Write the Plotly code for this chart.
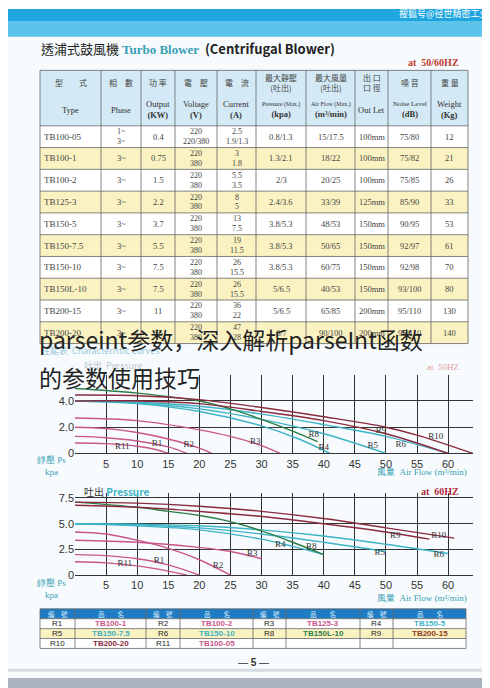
import plotly.graph_objects as go

W, H = 490, 688

# spec table data
types = ["TB100-05", "TB100-1", "TB100-2", "TB125-3", "TB150-5", "TB150-7.5",
         "TB150-10", "TB150L-10", "TB200-15", "TB200-20"]
phases = ["1~<br>3~"] + ["3~"] * 9
outputs = ["0.4", "0.75", "1.5", "2.2", "3.7", "5.5", "7.5", "7.5", "11", "15"]
voltages = ["220<br>220/380"] + ["220<br>380"] * 9
currents = ["2.5<br>1.9/1.3", "3<br>1.8", "5.5<br>3.5", "8<br>5", "13<br>7.5", "19<br>11.5",
            "26<br>15.5", "26<br>15.5", "36<br>22", "47<br>28"]
pressures = ["0.8/1.3", "1.3/2.1", "2/3", "2.4/3.6", "3.8/5.3", "3.8/5.3", "3.8/5.3",
             "5/6.5", "5/6.5", "6/7"]
airflows = ["15/17.5", "18/22", "20/25", "33/39", "48/53", "50/65", "60/75", "40/53",
            "65/85", "90/100"]
outlets = ["100mm", "100mm", "100mm", "125mm", "150mm", "150mm", "150mm", "150mm",
           "200mm", "200mm"]
noise = ["75/80", "75/82", "75/85", "85/90", "90/95", "92/97", "92/98", "93/100",
         "95/110", "95/110"]
weights = ["12", "21", "26", "33", "53", "61", "70", "80", "130", "140"]

head_cn = ["型　　式", "相　數", "功 率", "電　壓", "電　流", "最大靜壓<br>(吐出)",
           "最大風量<br>(吐出)", "出 口<br>口 徑", "噪 音", "重 量"]
head_en = ["Type", "Phase", "Output<br><b>(KW)</b>", "Voltage<br><b>(V)</b>",
           "Current<br><b>(A)</b>", "<span style='font-size:6px'>Pressure (Max.)</span><br><b>(kpa)</b>",
           "<span style='font-size:6px'>Air Flow (Max.)</span><br><b>(m³/min)</b>", "Out Let",
           "<span style='font-size:7px'>Noise Level</span><br><b>(dB)</b>", "Weight<br><b>(Kg)</b>"]

# characteristic curves, 50Hz
c50 = {
    "R11": ([0, 5, 10, 13, 15], [0.8, 0.75, 0.55, 0.3, 0]),
    "R1": ([0, 5, 10, 15, 18], [1.3, 1.2, 0.95, 0.5, 0]),
    "R2": ([0, 5, 10, 15, 20, 22], [2.0, 1.9, 1.6, 1.1, 0.4, 0]),
    "R3": ([0, 10, 20, 25, 30, 33], [2.7, 2.5, 1.8, 1.3, 0.6, 0]),
    "R4": ([0, 10, 20, 30, 36, 41], [4.0, 3.8, 3.2, 2.1, 1.1, 0]),
    "R5": ([0, 10, 20, 30, 40, 50], [4.0, 3.85, 3.4, 2.6, 1.5, 0]),
    "R6": ([0, 10, 20, 30, 40, 50, 60], [4.0, 3.9, 3.6, 3.0, 2.2, 1.3, 0]),
    "R8": ([0, 10, 20, 25, 30, 35, 39], [4.95, 4.6, 4.0, 3.4, 2.6, 1.7, 0.9]),
    "R9": ([0, 10, 20, 30, 40, 50, 60], [4.0, 4.0, 3.8, 3.2, 2.5, 1.5, 0]),
    "R10": ([0, 10, 20, 30, 40, 50, 55, 64], [4.45, 4.4, 4.1, 3.5, 2.8, 2.0, 1.4, 0]),
}
lab50 = {"R11": (7.6, 0.5), "R1": (13.2, 0.7), "R2": (18.3, 0.65), "R3": (29, 0.9),
         "R8": (38.4, 1.4), "R4": (40, 0.45), "R5": (47.9, 0.6), "R6": (52.4, 0.65),
         "R9": (49.2, 1.75), "R10": (58, 1.25)}

# 60Hz
c60 = {
    "R11": ([0, 5, 10, 15, 18], [1.3, 1.2, 0.9, 0.4, 0]),
    "R1": ([0, 5, 10, 15, 20], [2.0, 1.9, 1.6, 1.0, 0]),
    "R2": ([0, 5, 10, 15, 20, 25], [4.2, 4.0, 3.4, 2.6, 1.5, 0]),
    "R3": ([0, 10, 20, 25, 30], [3.4, 3.2, 2.7, 2.3, 1.6]),
    "R4": ([0, 10, 20, 30, 35, 40], [5.0, 4.8, 4.4, 3.5, 2.8, 2.0]),
    "R5": ([0, 10, 20, 30, 40, 50], [5.0, 4.9, 4.6, 4.0, 3.2, 2.3]),
    "R6": ([0, 10, 20, 30, 40, 50, 60], [5.0, 4.95, 4.8, 4.4, 3.8, 3.0, 2.1]),
    "R8": ([0, 10, 15, 20, 25, 30, 35, 40], [7.1, 6.6, 6.2, 5.8, 5.2, 4.3, 3.2, 2.0]),
    "R9": ([0, 10, 20, 30, 40, 50, 57], [6.8, 6.6, 6.2, 5.7, 5.0, 4.2, 3.5]),
    "R10": ([0, 10, 20, 30, 40, 50, 61], [7.1, 7.0, 6.7, 6.2, 5.5, 4.6, 3.6]),
}
lab60 = {"R11": (8, 1.1), "R1": (13.5, 1.4), "R2": (23, 0.9), "R3": (28.5, 2.1),
         "R4": (33, 3.0), "R8": (38, 2.8), "R5": (49, 2.2), "R6": (58.5, 2.0),
         "R9": (51.5, 3.8), "R10": (58.5, 3.8)}

# legend table
codes = [["R1", "R5", "R10"], ["R2", "R6", "R11"], ["R3", "R8", ""], ["R4", "R9", ""]]
names = [["TB100-1", "TB150-7.5", "TB200-20"], ["TB100-2", "TB150-10", "TB100-05"],
         ["TB125-3", "TB150L-10", ""], ["TB150-5", "TB200-15", ""]]

PINK, MAROON, CYAN, GREEN, BROWN = "#c9558a", "#8a2b3e", "#3db3c6", "#2d7d48", "#8a3a1c"
curve_color = {"R11": PINK, "R1": PINK, "R2": PINK, "R3": PINK, "R4": CYAN, "R5": CYAN,
               "R6": CYAN, "R8": GREEN, "R9": MAROON, "R10": MAROON}
name_color = {"R1": PINK, "R2": PINK, "R3": PINK, "R11": PINK, "R4": CYAN, "R5": CYAN,
              "R6": CYAN, "R8": GREEN, "R9": BROWN, "R10": MAROON, "": "black"}
YELLOW = "#fbf2c2"


def py(p):
    return 1 - p / H


fig = go.Figure()


def rect(x0, y0, x1, y1, fill, layer="below"):
    fig.add_shape(type="rect", xref="paper", yref="paper", x0=x0 / W, x1=x1 / W,
                  y0=py(y1), y1=py(y0), fillcolor=fill, layer=layer, line_width=0)


def txt(x, y, s, size, color, anchor="left", family="Noto Sans CJK TC"):
    fig.add_annotation(x=x / W, y=py(y), xref="paper", yref="paper", text=s, showarrow=False,
                       xanchor=anchor, yanchor="middle", borderpad=0,
                       font=dict(size=size, color=color, family=family))


def hline(x0, x1, y, color="#666", width=0.8):
    fig.add_shape(type="line", xref="paper", yref="paper", x0=x0 / W, x1=x1 / W,
                  y0=py(y), y1=py(y), line=dict(color=color, width=width))


def vline(x, y0, y1, color="#666"):
    fig.add_shape(type="line", xref="paper", yref="paper", x0=x / W, x1=x / W,
                  y0=py(y1), y1=py(y0), line=dict(color=color, width=0.8))


# background bands
rect(0, 0, W, 28, "#5cc3ea")
rect(0, 0, W, 12, "#1fa6e0")
rect(0, 676, W, H, "#a9b4bf")
hline(0, W, 668, "#d5dde3", 3)

# spec table drawn from the lists
colx = [32, 93, 133, 167, 209, 248, 298, 347, 380, 423, 460]
top, head_h, row_h = 62, 56, 22
rect(colx[0], top, colx[-1], top + head_h, "#d3e9f5")
columns = [types, phases, outputs, voltages, currents, pressures, airflows, outlets, noise, weights]
for r in range(len(types)):
    y0 = top + head_h + r * row_h
    rect(colx[0], y0, colx[-1], y0 + row_h, "white" if r % 2 == 0 else YELLOW)
for c in range(len(columns)):
    cx = (colx[c] + colx[c + 1]) / 2
    txt(cx, top + 12, head_cn[c], 8, "#444", "center")
    txt(cx, top + 40, head_en[c], 8.5, "#333", "center", "Liberation Serif")
    for r, v in enumerate(columns[c]):
        yc = top + head_h + r * row_h + row_h / 2
        if c == 0:
            txt(colx[0] + 3, yc, v, 9, "#444", "left", "Liberation Serif")
        elif "<br>" in v:
            a, b = v.split("<br>")
            txt(cx, yc - 5, a, 8, "#444", "center", "Liberation Serif")
            txt(cx, yc + 5, b, 8, "#444", "center", "Liberation Serif")
        else:
            txt(cx, yc, v, 8.5, "#444", "center", "Liberation Serif")
bottom = top + head_h + len(types) * row_h
for x in colx:
    vline(x, top, bottom)
hline(colx[0], colx[-1], top)
for r in range(len(types) + 1):
    hline(colx[0], colx[-1], top + head_h + r * row_h)
txt(452, 54, "<b>at  50/60HZ</b>", 10, "#c0392b", "right", "Liberation Serif")

# legend table
colx2 = [32, 67, 138, 172, 245, 278, 352, 385, 458]
ltop, lrow = 606, 10
rect(colx2[0], ltop, colx2[-1], ltop + lrow, "#1f7cc4")
for r in range(3):
    rect(colx2[0], ltop + lrow * (r + 1), colx2[-1], ltop + lrow * (r + 2),
         YELLOW if r == 1 else "white")
for g in range(4):
    for j, (vals, head) in enumerate([(codes[g], "編　號"), (names[g], "品　　名")]):
        c = 2 * g + j
        cx = (colx2[c] + colx2[c + 1]) / 2
        txt(cx, ltop + lrow / 2, head, 6.5, "#d8ecfa", "center")
        for r, v in enumerate(vals):
            col = "#222" if j == 0 else name_color[codes[g][r]]
            txt(cx, ltop + lrow * (r + 1.5), f"<b>{v}</b>" if j else v, 8, col, "center",
                "Liberation Sans")
for x in colx2:
    vline(x, ltop, ltop + 4 * lrow)
for r in range(5):
    hline(colx2[0], colx2[-1], ltop + r * lrow)


def add_chart(curves, labels, xa, ya):
    for k, (xs, ys) in curves.items():
        fig.add_trace(go.Scatter(x=xs, y=ys, mode="lines", xaxis=xa, yaxis=ya,
                                 line=dict(color=curve_color[k], width=1.4, shape="spline"),
                                 showlegend=False, hoverinfo="skip"))
    ks = list(labels)
    fig.add_trace(go.Scatter(x=[labels[k][0] for k in ks], y=[labels[k][1] for k in ks],
                             text=ks, mode="text", xaxis=xa, yaxis=ya, showlegend=False,
                             textfont=dict(family="Liberation Serif", size=9, color="#333")))


add_chart(c50, lab50, "x", "y")
add_chart(c60, lab60, "x2", "y2")

xcommon = dict(range=[0, 64], tickvals=[5, 10, 15, 20, 25, 30, 35, 40, 45, 50, 55, 60],
               showgrid=True, gridcolor="#333", gridwidth=1, zeroline=False,
               showline=True, linecolor="#333", ticks="",
               tickfont=dict(family="Liberation Sans", size=11, color="#333"))
fig.update_layout(
    width=W, height=H, margin=dict(l=0, r=0, t=0, b=0),
    paper_bgcolor="#f7fbfd", plot_bgcolor="rgba(0,0,0,0)",
    xaxis=dict(domain=[67 / W, 465 / W], anchor="y", **xcommon),
    yaxis=dict(domain=[py(449), py(369.5)], anchor="x", range=[0, 6], tickvals=[0, 2, 4, 6],
               ticktext=["0", "2.0", "4.0", ""], showgrid=True, gridcolor="#333",
               zeroline=False, tickfont=dict(family="Liberation Sans", size=11, color="#333")),
    xaxis2=dict(domain=[67 / W, 465 / W], anchor="y2", **xcommon),
    yaxis2=dict(domain=[py(572), py(488.8)], anchor="x2", range=[0, 8],
                tickvals=[0, 2.5, 5, 7.5], ticktext=["0", "2.5", "5.0", "7.5"],
                showgrid=True, gridcolor="#333", zeroline=False,
                tickfont=dict(family="Liberation Sans", size=11, color="#333")),
)

txt(482, 5, "搜狐号@径世精密工业", 9, "white", "right")
txt(32, 40, "透浦式鼓風機 <b><span style='color:#3a9fb5;font-family:Liberation Serif'>"
    "Turbo Blower</span></b>  <b>(Centrifugal Blower)</b>", 13, "#222")
txt(32, 345, "性能表  Characteristic curves", 9, "#9cc8d8")
txt(75, 360, "吐出  Pressure", 9, "#b7c8cc")
txt(452, 362, "at  50HZ", 9, "#e3a0a8", "right", "Liberation Serif")
txt(28, 462, "靜壓 Ps<br>kpa", 9, "#3a9fb5", family="Liberation Serif")
txt(460, 468, "風量  Air Flow (m³/min)", 9, "#3a9fb5", "right", "Liberation Serif")
txt(75, 487, "吐出 <b><span style='color:#3db3c6'>Pressure</span></b>", 10, "#333")
txt(452, 487, "<b>at  60HZ</b>", 10, "#b0283b", "right", "Liberation Serif")
txt(28, 586, "靜壓 Ps<br>kpa", 9, "#3a9fb5", family="Liberation Serif")
txt(460, 595, "風量  Air Flow (m³/min)", 9, "#3a9fb5", "right", "Liberation Serif")
txt(245, 660, "— <b>5</b> —", 10, "#333", "center", "Liberation Sans")

# overlay caption
txt(30, 333, "parseint参数，深入解析parseInt函数", 23, "#222", family="Noto Sans CJK SC")
txt(30, 372, "的参数使用技巧", 23, "#222", family="Noto Sans CJK SC")

fig.write_html("out.html")
